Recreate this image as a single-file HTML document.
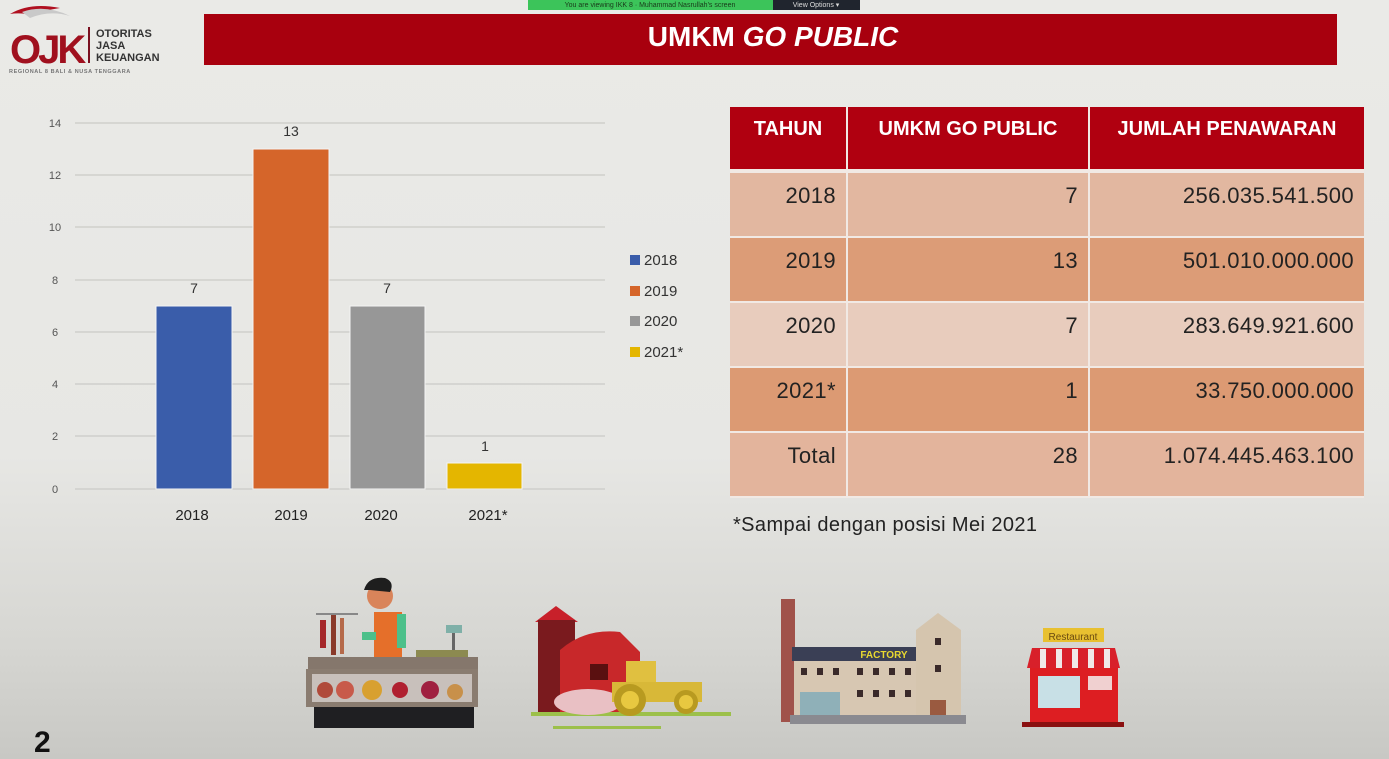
<!DOCTYPE html>
<html><head><meta charset="utf-8"><style>
html,body{margin:0;padding:0;}
body{width:1389px;height:759px;overflow:hidden;background:linear-gradient(to bottom,#eaeae7 0%,#e7e7e4 60%,#d6d6d2 85%,#c8c8c4 100%);font-family:"Liberation Sans",sans-serif;position:relative;}
svg{position:absolute;left:0;top:0;}
table{position:absolute;left:730px;top:107px;border-collapse:separate;border-spacing:0;}
td,th{padding:0 10px 0 0;text-align:right;font-size:22px;color:#222;vertical-align:top;box-sizing:border-box;border-right:2px solid #f1e9e4;border-bottom:2px solid #f1e9e4;}
th{background:#b00010;color:#fff;font-size:20px;text-align:center;padding:11px 0 0 0;height:66px;border-bottom:4px solid #f1e9e4;}
td{padding-top:10px;height:65px;letter-spacing:0.4px;}
td:last-child,th:last-child{border-right:none;}
.r1 td{background:#e2b7a0;}
.r2 td{background:#dc9c77;}
.r3 td{background:#e8ccbd;}
.r4 td{background:#dc9a73;}
.r5 td{background:#e3b49c;}
</style></head><body>
<svg width="1389" height="759" viewBox="0 0 1389 759">
<!-- zoom banner -->
<rect x="528" y="0" width="245" height="10" fill="#3cc45a"/>
<text x="650" y="7" font-size="7" text-anchor="middle" fill="#1a3a1a">You are viewing IKK 8 · Muhammad Nasrullah's screen</text>
<rect x="773" y="0" width="87" height="10" fill="#20252e"/>
<text x="816" y="7" font-size="7" text-anchor="middle" fill="#ddd">View Options ▾</text>
<!-- logo -->
<path d="M10 14 Q30 2 60 8 Q45 10 35 16 Q22 12 10 14Z" fill="#b01020"/>
<path d="M22 12 Q45 4 70 16 Q50 10 30 18Z" fill="#c9c9c9"/>
<text x="10" y="63" font-size="40" font-weight="bold" fill="#a0101e" letter-spacing="-3">OJK</text>
<rect x="88" y="27" width="2" height="36" fill="#7a1020"/>
<text x="96" y="37" font-size="11" font-weight="bold" fill="#333">OTORITAS</text>
<text x="96" y="49" font-size="11" font-weight="bold" fill="#333">JASA</text>
<text x="96" y="61" font-size="11" font-weight="bold" fill="#333">KEUANGAN</text>
<text x="9" y="73" font-size="5.5" font-weight="bold" fill="#777" letter-spacing="0.6">REGIONAL 8 BALI &amp; NUSA TENGGARA</text>
<!-- title bar -->
<rect x="204" y="14" width="1133" height="51" fill="#a8000e"/>
<text x="773" y="46" font-size="28" font-weight="bold" fill="#fff" text-anchor="middle">UMKM <tspan font-style="italic">GO PUBLIC</tspan></text>
<!-- chart gridlines -->
<g stroke="#cfcfcc" stroke-width="1.5">
<line x1="75" y1="123" x2="605" y2="123"/>
<line x1="75" y1="175" x2="605" y2="175"/>
<line x1="75" y1="227" x2="605" y2="227"/>
<line x1="75" y1="280" x2="605" y2="280"/>
<line x1="75" y1="332" x2="605" y2="332"/>
<line x1="75" y1="384" x2="605" y2="384"/>
<line x1="75" y1="436" x2="605" y2="436"/>
<line x1="75" y1="489" x2="605" y2="489"/>
</g>
<g font-size="11" fill="#555" text-anchor="middle">
<text x="55" y="127">14</text><text x="55" y="179">12</text><text x="55" y="231">10</text>
<text x="55" y="284">8</text><text x="55" y="336">6</text><text x="55" y="388">4</text>
<text x="55" y="440">2</text><text x="55" y="493">0</text>
</g>
<rect x="156" y="306" width="76" height="183" fill="#3a5daa" stroke="#f4f4f4" stroke-width="1"/>
<rect x="253" y="149" width="76" height="340" fill="#d5652a" stroke="#f4f4f4" stroke-width="1"/>
<rect x="350" y="306" width="75" height="183" fill="#979797" stroke="#f4f4f4" stroke-width="1"/>
<rect x="447" y="463" width="75" height="26" fill="#e4b600" stroke="#f4f4f4" stroke-width="1"/>
<g font-size="14" fill="#333" text-anchor="middle">
<text x="194" y="293">7</text><text x="291" y="136">13</text><text x="387" y="293">7</text><text x="485" y="451">1</text>
</g>
<g font-size="15" fill="#222" text-anchor="middle">
<text x="192" y="520">2018</text><text x="291" y="520">2019</text><text x="381" y="520">2020</text><text x="488" y="520">2021*</text>
</g>
<g font-size="15" fill="#333">
<rect x="630" y="255" width="10" height="10" fill="#3a5daa"/><text x="644" y="265">2018</text>
<rect x="630" y="286" width="10" height="10" fill="#d5652a"/><text x="644" y="296">2019</text>
<rect x="630" y="316" width="10" height="10" fill="#979797"/><text x="644" y="326">2020</text>
<rect x="630" y="347" width="10" height="10" fill="#e4b600"/><text x="644" y="357">2021*</text>
</g>
<!-- footnote -->
<text x="733" y="531" font-size="20" fill="#222" letter-spacing="0.4">*Sampai dengan posisi Mei 2021</text>
<!-- shop stall -->
<g>
<rect x="316" y="613" width="42" height="2" fill="#888"/>
<rect x="320" y="620" width="6" height="28" fill="#a5282a"/>
<rect x="331" y="615" width="5" height="40" fill="#8a3a2a"/>
<rect x="340" y="618" width="4" height="36" fill="#b56a4a"/>
<rect x="374" y="612" width="28" height="48" fill="#e56f2a"/>
<rect x="397" y="614" width="9" height="34" fill="#4cc08a"/>
<rect x="362" y="632" width="14" height="8" fill="#4cc08a"/>
<circle cx="380" cy="596" r="13" fill="#d9845a"/>
<path d="M364 590 Q368 576 385 578 Q395 582 390 592 L370 590Z" fill="#1e1e1e"/>
<rect x="446" y="625" width="16" height="8" fill="#7fb0a8"/>
<rect x="452" y="633" width="3" height="18" fill="#666"/>
<rect x="416" y="650" width="52" height="10" fill="#8c8a50"/>
<rect x="308" y="657" width="170" height="12" fill="#85776c"/>
<rect x="306" y="669" width="172" height="38" fill="#8a7c70"/>
<rect x="312" y="674" width="160" height="28" fill="#c8c0bb"/>
<circle cx="325" cy="690" r="8" fill="#b04a3a"/><circle cx="345" cy="690" r="9" fill="#c85a4a"/>
<circle cx="372" cy="690" r="10" fill="#d8a030"/><circle cx="400" cy="690" r="8" fill="#b02030"/>
<circle cx="430" cy="690" r="9" fill="#a02040"/><circle cx="455" cy="692" r="8" fill="#c8904a"/>
<rect x="314" y="707" width="160" height="21" fill="#1f1f22"/>
</g>
<!-- farm -->
<g>
<rect x="531" y="712" width="200" height="4" fill="#9cc04a"/>
<rect x="553" y="726" width="108" height="3" fill="#9cc04a"/>
<path d="M535 622 L556 606 L578 622Z" fill="#c8202a"/>
<rect x="538" y="620" width="37" height="92" fill="#7a1a1e"/>
<path d="M560 650 Q585 628 620 632 L640 652 L640 712 L560 712Z" fill="#c8282a"/>
<rect x="590" y="664" width="18" height="16" fill="#5a1010"/>
<ellipse cx="588" cy="702" rx="34" ry="13" fill="#e9c0c4"/>
<rect x="626" y="661" width="30" height="25" fill="#e0c040" />
<rect x="612" y="682" width="90" height="20" fill="#d8b838"/>
<circle cx="630" cy="700" r="16" fill="#b89a20"/><circle cx="630" cy="700" r="9" fill="#e8c840"/>
<circle cx="686" cy="702" r="12" fill="#b89a20"/><circle cx="686" cy="702" r="7" fill="#e8c840"/>
</g>
<!-- factory -->
<g>
<rect x="781" y="599" width="14" height="123" fill="#a0524a"/>
<rect x="792" y="647" width="126" height="14" fill="#3a3f55"/>
<text x="884" y="658" font-size="10" font-weight="bold" fill="#e8d830" text-anchor="middle">FACTORY</text>
<rect x="794" y="661" width="124" height="54" fill="#d7c7b2"/>
<path d="M916 630 L938 613 L961 630 L961 715 L916 715Z" fill="#d5c5ae"/>
<g fill="#3a2a2a">
<rect x="801" y="668" width="6" height="7"/><rect x="817" y="668" width="6" height="7"/><rect x="833" y="668" width="6" height="7"/>
<rect x="857" y="668" width="6" height="7"/><rect x="873" y="668" width="6" height="7"/><rect x="889" y="668" width="6" height="7"/><rect x="905" y="668" width="6" height="7"/>
<rect x="857" y="690" width="6" height="7"/><rect x="873" y="690" width="6" height="7"/><rect x="889" y="690" width="6" height="7"/><rect x="905" y="690" width="6" height="7"/>
<rect x="935" y="638" width="6" height="7"/><rect x="935" y="665" width="6" height="7"/>
</g>
<rect x="800" y="692" width="40" height="23" fill="#8fb0b8"/>
<rect x="930" y="700" width="16" height="15" fill="#9a5a40"/>
<rect x="790" y="715" width="176" height="9" fill="#8a8a90"/>
</g>
<!-- restaurant -->
<g>
<rect x="1043" y="628" width="61" height="14" fill="#e8c030"/>
<text x="1073" y="640" font-size="10" fill="#6a4a10" text-anchor="middle">Restaurant</text>
<path d="M1027 668 L1032 648 L1115 648 L1120 668Z" fill="#d8202a"/>
<g fill="#f0e8e8"><rect x="1040" y="649" width="6" height="19"/><rect x="1056" y="649" width="6" height="19"/><rect x="1072" y="649" width="6" height="19"/><rect x="1088" y="649" width="6" height="19"/><rect x="1104" y="649" width="6" height="19"/></g>
<rect x="1030" y="668" width="88" height="56" fill="#dd1e22"/>
<rect x="1038" y="676" width="42" height="32" fill="#c8e0e6"/>
<rect x="1088" y="676" width="24" height="14" fill="#f0d0d0"/>
<rect x="1022" y="722" width="102" height="5" fill="#8a1010"/>
</g>
<text x="34" y="752" font-size="30" font-weight="bold" fill="#111">2</text>
</svg>
<table>
<tr><th style="width:118px;">TAHUN</th><th style="width:242px;">UMKM GO PUBLIC</th><th style="width:274px;">JUMLAH PENAWARAN</th></tr>
<tr class="r1"><td>2018</td><td>7</td><td>256.035.541.500</td></tr>
<tr class="r2"><td>2019</td><td>13</td><td>501.010.000.000</td></tr>
<tr class="r3"><td>2020</td><td>7</td><td>283.649.921.600</td></tr>
<tr class="r4"><td>2021*</td><td>1</td><td>33.750.000.000</td></tr>
<tr class="r5"><td>Total</td><td>28</td><td>1.074.445.463.100</td></tr>
</table>
</body></html>
